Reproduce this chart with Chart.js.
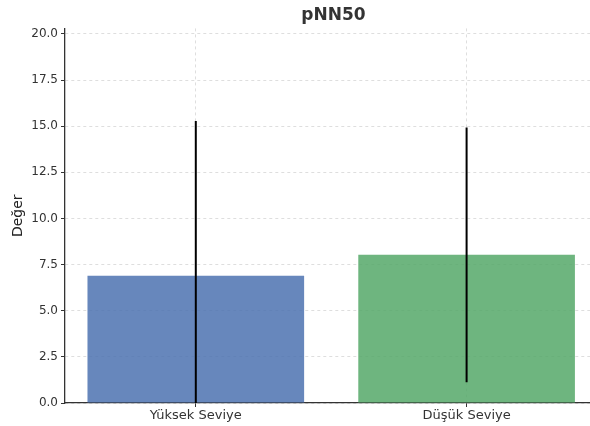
<!DOCTYPE html>
<html>
<head>
<meta charset="utf-8">
<script src="https://cdn.jsdelivr.net/npm/chart.js@4"></script>
<style>
  html, body { margin: 0; padding: 0; background: #fff; overflow: hidden; }
  #wrap { width: 602px; height: 426px; }
</style>
</head>
<body>
<div id="wrap"><canvas id="chart"></canvas></div>
<script>
// Data
const categories = ["Yüksek Seviye", "Düşük Seviye"];
const means = [6.9, 8.03];
const errors = [8.38, 6.9];
const yTicks = [0, 2.5, 5, 7.5, 10, 12.5, 15, 17.5, 20];
const barColors = ["rgba(76, 114, 176, 0.85)", "rgba(85, 168, 104, 0.85)"];

const fontFamily = "'DejaVu Sans', sans-serif";

// Draw the error bars on top of the bars, clipped to the plot area
const errorBarPlugin = {
  id: "errorBars",
  afterDatasetsDraw(chart) {
    const ctx = chart.ctx;
    const meta = chart.getDatasetMeta(0);
    const yScale = chart.scales.y;
    const area = chart.chartArea;
    ctx.save();
    ctx.beginPath();
    ctx.rect(area.left, area.top, area.right - area.left, area.bottom - area.top);
    ctx.clip();
    ctx.strokeStyle = "#000";
    ctx.lineWidth = 2;
    meta.data.forEach(function (bar, i) {
      const top = yScale.getPixelForValue(means[i] + errors[i]);
      const bottom = yScale.getPixelForValue(means[i] - errors[i]);
      ctx.beginPath();
      ctx.moveTo(bar.x, top);
      ctx.lineTo(bar.x, bottom);
      ctx.stroke();
    });
    ctx.restore();
  },
};

const ctx = document.getElementById("chart").getContext("2d");
const chart = new Chart(ctx, {
  type: "bar",
  data: {
    datasets: [
      {
        data: means.map(function (v, i) {
          return { x: i, y: v };
        }),
        backgroundColor: barColors,
        borderWidth: 0,
        barPercentage: 0.8,
        categoryPercentage: 1.0,
      },
    ],
  },
  options: {
    responsive: true,
    maintainAspectRatio: false,
    animation: false,
    layout: { padding: { left: 0, right: 0, top: 0, bottom: 0 } },
    plugins: {
      legend: { display: false },
      tooltip: { enabled: false },
      title: {
        display: true,
        fullSize: false,
        text: "pNN50",
        color: "#333",
        font: { family: fontFamily, size: 17, weight: "bold" },
        padding: { top: 5, bottom: 3 },
      },
    },
    scales: {
      x: {
        type: "linear",
        offset: false,
        min: -0.483,
        max: 1.5,
        afterBuildTicks(scale) {
          scale.ticks = categories.map(function (c, i) {
            return { value: i };
          });
        },
        grid: {
          offset: false,
          color: "rgba(0,0,0,0.13)",
          tickColor: "#333",
          tickBorderDash: [],
          tickLength: 4,
        },
        border: { display: true, color: "#333", width: 1.3, dash: [3, 3] },
        ticks: {
          color: "#333",
          font: { family: fontFamily, size: 13 },
          padding: 1,
          callback: function (v) {
            return categories[v];
          },
        },
        afterFit(scale) {
          scale.height = 23;
        },
      },
      y: {
        min: 0,
        max: 20.3,
        afterBuildTicks(scale) {
          scale.ticks = yTicks.map(function (v) {
            return { value: v };
          });
        },
        grid: {
          color: "rgba(0,0,0,0.13)",
          tickColor: "#333",
          tickBorderDash: [],
          tickLength: 4,
        },
        border: { display: true, color: "#333", width: 1.3, dash: [3, 3] },
        ticks: {
          color: "#333",
          font: { family: fontFamily, size: 12 },
          padding: 3,
          callback: function (v) {
            return Number(v).toFixed(1);
          },
        },
        title: {
          display: true,
          text: "Değer",
          color: "#222",
          font: { family: fontFamily, size: 14 },
          padding: { top: 10, bottom: 0 },
        },
        afterFit(scale) {
          scale.width = 65;
        },
      },
    },
  },
  plugins: [errorBarPlugin],
});
</script>
</body>
</html>
